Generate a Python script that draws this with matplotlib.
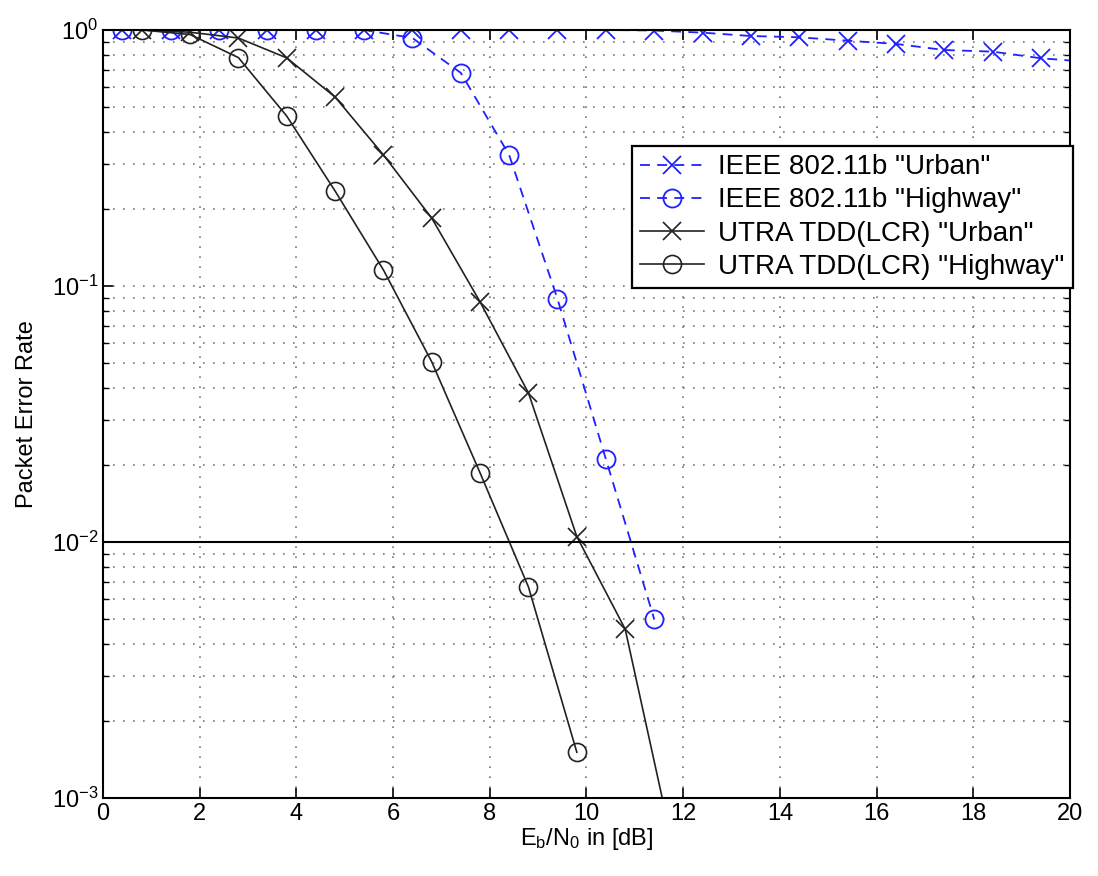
import numpy as np
import matplotlib
matplotlib.use('Agg')
import matplotlib.pyplot as plt
from matplotlib.ticker import LogLocator, NullFormatter

plt.rcParams['font.family'] = ['Liberation Sans', 'DejaVu Sans']
plt.rcParams['mathtext.default'] = 'regular'

# DATA
ieee_urban_x = [0.4, 1.4, 2.4, 3.4, 4.4, 5.4, 6.4, 7.4, 8.4, 9.4, 10.4, 11.4,
                12.4, 13.4, 14.4, 15.4, 16.4, 17.4, 18.4, 19.4, 20.4]
ieee_urban_y = [1.0, 1.0, 1.0, 1.0, 1.0, 1.0, 1.0, 1.0, 1.0, 1.0, 1.0, 0.995,
                0.976, 0.947, 0.936, 0.908, 0.882, 0.835, 0.823, 0.775, 0.75]

ieee_highway_x = [0.4, 1.4, 2.4, 3.4, 4.4, 5.4, 6.4, 7.4, 8.4, 9.4, 10.4, 11.4]
ieee_highway_y = [1.0, 1.0, 1.0, 1.0, 1.0, 1.0, 0.93, 0.68, 0.325, 0.089, 0.0211, 0.0050]

utra_urban_x = [0.8, 1.8, 2.8, 3.8, 4.8, 5.8, 6.8, 7.8, 8.8, 9.8, 10.8, 11.8]
utra_urban_y = [1.0, 0.98, 0.93, 0.778, 0.547, 0.325, 0.184, 0.0866, 0.0382,
                0.0105, 0.00457, 0.00063]

utra_highway_x = [0.8, 1.8, 2.8, 3.8, 4.8, 5.8, 6.8, 7.8, 8.8, 9.8]
utra_highway_y = [1.0, 0.96, 0.78, 0.461, 0.235, 0.1155, 0.0505, 0.0186, 0.00667, 0.00151]

target_per = 1e-2

fig = plt.figure(figsize=(10.98, 8.76), dpi=100)
ax = fig.add_axes([0.0938, 0.089, 0.8807, 0.8768])

blue = '#2020ff'
ax.semilogy(ieee_urban_x, ieee_urban_y, '--x', color=blue, lw=1.3, ms=13, mew=1.3,
            dashes=(5.5, 4), label='IEEE 802.11b "Urban"')
ax.semilogy(ieee_highway_x, ieee_highway_y, '--o', color=blue, lw=1.3, ms=13, mew=1.3,
            dashes=(5.5, 4), mfc='none', label='IEEE 802.11b "Highway"')
ax.semilogy(utra_urban_x, utra_urban_y, '-x', color='#222222', lw=1.2, ms=13, mew=1.2,
            label='UTRA TDD(LCR) "Urban"')
ax.semilogy(utra_highway_x, utra_highway_y, '-o', color='#222222', lw=1.2, ms=13, mew=1.2,
            mfc='none', label='UTRA TDD(LCR) "Highway"')
ax.axhline(target_per, color='black', lw=1.5)

ax.set_xlim(0, 20)
ax.set_ylim(1e-3, 1)
ax.set_xticks(np.arange(0, 21, 2))
ax.yaxis.set_major_locator(LogLocator(base=10))
ax.yaxis.set_minor_locator(LogLocator(base=10, subs=np.arange(2, 10)))
ax.yaxis.set_minor_formatter(NullFormatter())

ax.grid(True, which='major', ls=(0, (1, 5)), color='#777777', lw=1.2)
ax.grid(True, which='minor', axis='y', ls=(0, (1, 5)), color='#777777', lw=1.2)
ax.tick_params(which='both', direction='in', top=True, right=True, labelsize=17)
ax.tick_params(which='major', length=7, width=1.2)
ax.tick_params(which='minor', length=4, width=1.0)
for s in ax.spines.values():
    s.set_linewidth(1.5)

ax.set_xlabel('E$_b$/N$_0$ in [dB]', fontsize=17, labelpad=1)
ax.set_ylabel('Packet Error Rate', fontsize=17, labelpad=10)

leg = ax.legend(loc='upper right', bbox_to_anchor=(1.003, 0.849), fontsize=20,
                fancybox=False, edgecolor='black', framealpha=1,
                handlelength=2.3, handletextpad=0.5, borderpad=0.3,
                labelspacing=0.26, borderaxespad=0.0)
leg.get_frame().set_linewidth(1.6)

fig.savefig('out.png', dpi=100)
